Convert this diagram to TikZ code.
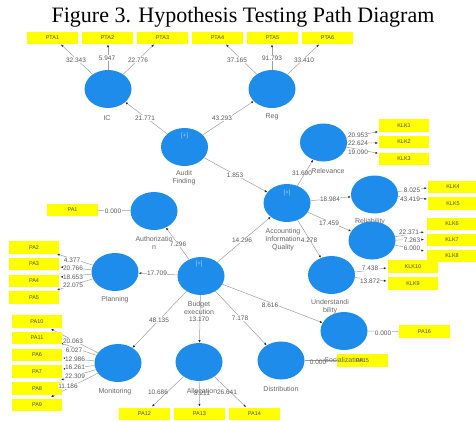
\documentclass[tikz,border=0pt]{standalone}
\usepackage{fontspec}
\setmainfont{Liberation Sans}
\newfontfamily\titlefont{Liberation Serif}
\usetikzlibrary{shapes.geometric,arrows.meta}
\pgfdeclarelayer{background}
\pgfsetlayers{background,main}
\definecolor{plsblue}{RGB}{30,140,235}
\definecolor{plsyellow}{RGB}{255,255,0}
\begin{document}
\begin{tikzpicture}[x=1pt,y=-1pt,
  lv/.style={ellipse, fill=plsblue, minimum width=47pt, minimum height=38pt, inner sep=0pt},
  ind/.style={fill=plsyellow, minimum width=51pt, minimum height=12.5pt, inner sep=0pt, font=\fontsize{5.5}{6}\selectfont, text=black!70},
  num/.style={fill=white, inner sep=0.4pt, font=\fontsize{6.5}{7}\selectfont, text=black!65},
  lvlab/.style={font=\fontsize{7}{8}\selectfont, text=black!60, align=center, inner sep=0pt},
  plus/.style={font=\fontsize{6}{7}\selectfont, text=white!65!plsblue, inner sep=0pt},
  con/.style={draw=black!38, line width=0.5pt, -{Latex[length=2.6pt,width=2.2pt,color=black!85]}},
  plain/.style={draw=black!38, line width=0.5pt},
  titlest/.style={font=\titlefont\fontsize{22}{24}\selectfont, anchor=base, inner sep=0pt}]
\useasboundingbox (0,0) rectangle (476,421);
\node[titlest] (title) at (243,22) {Figure 3. Hypothesis Testing Path Diagram};

% latent variables
\node[lv] (IC) at (108,89) {};
\node[lv] (Reg) at (272,89) {};
\node[lv] (AF) at (184.5,147) {};
\node[lv] (AIQ) at (287,203) {};
\node[lv] (Rel) at (323.5,142.5) {};
\node[lv] (Reli) at (374.5,194.5) {};
\node[lvlab] (Relilab) at (370,222) {Reliability};
\node[lv] (Cons) at (372,240.5) {};
\node[lv] (Und) at (331.5,275) {};
\node[lv] (Auth) at (154,211) {};
\node[lv] (BE) at (201,276) {};
\node[lv] (Plan) at (115,272) {};
\node[lv] (Mon) at (118,363) {};
\node[lv] (Alloc) at (199,362) {};
\node[lv] (Dist) at (281,360.5) {};
\node[lv] (Soc) at (344,331) {};

\node[plus] (p1) at (184.5,136) {[+]};
\node[plus] (p2) at (287,193) {[+]};
\node[plus] (p3) at (199,264) {[+]};

% latent variable labels
\node[lvlab] (ICl) at (107,118) {IC};
\node[lvlab] (Regl) at (272,117) {Reg};
\node[lvlab] (AFl) at (184,177.5) {Audit\\Finding};
\node[lvlab] (Rell) at (328,171) {Relevance};
\node[lvlab] (AIQl) at (283,240) {Accounting\\Information\\Quality};
\node[lvlab] (Undl) at (330,306.5) {Understandi\\bility};
\node[lvlab] (Authl) at (154,242.5) {Authorizatio\\n};
\node[lvlab] (BEl) at (199,308) {Budget\\execution};
\node[lvlab] (Planl) at (115,300) {Planning};
\node[lvlab] (Monl) at (115,392) {Monitoring};
\node[lvlab] (Allocl) at (202,391) {Allocation};
\node[lvlab] (Distl) at (281,389) {Distribution};

% indicators
\node[ind] (PTA1) at (52.5,38) {PTA1};
\node[ind] (PTA2) at (107.5,38) {PTA2};
\node[ind] (PTA3) at (162.5,38) {PTA3};
\node[ind] (PTA4) at (217.5,38) {PTA4};
\node[ind] (PTA5) at (272.5,38) {PTA5};
\node[ind] (PTA6) at (327.5,38) {PTA6};
\node[ind, minimum width=50pt] (KLK1) at (404,125.5) {KLK1};
\node[ind, minimum width=50pt] (KLK2) at (404,142) {KLK2};
\node[ind, minimum width=50pt] (KLK3) at (404,159) {KLK3};
\node[ind, minimum width=50pt] (KLK4) at (453,187) {KLK4};
\node[ind, minimum width=50pt] (KLK5) at (453,203.5) {KLK5};
\node[ind, minimum width=50pt] (KLK6) at (452,224) {KLK6};
\node[ind, minimum width=50pt] (KLK7) at (452,240) {KLK7};
\node[ind, minimum width=50pt] (KLK8) at (452,256) {KLK8};
\node[ind, minimum width=50pt] (KLK10) at (413,266.5) {KLK10};
\node[ind, minimum width=50pt] (KLK9) at (413,283.5) {KLK9};
\node[ind] (PA1) at (72.5,210) {PA1};
\node[ind, minimum width=50pt] (PA2) at (34,247.5) {PA2};
\node[ind, minimum width=50pt] (PA3) at (34,264) {PA3};
\node[ind, minimum width=50pt] (PA4) at (34,281) {PA4};
\node[ind, minimum width=50pt] (PA5) at (34,297.5) {PA5};
\node[ind, minimum width=50pt] (PA10) at (37,321.5) {PA10};
\node[ind, minimum width=50pt] (PA11) at (37,338) {PA11};
\node[ind, minimum width=50pt] (PA6) at (37,355) {PA6};
\node[ind, minimum width=50pt] (PA7) at (37,371.5) {PA7};
\node[ind, minimum width=50pt] (PA8) at (37,388.5) {PA8};
\node[ind, minimum width=50pt] (PA9) at (37,405) {PA9};
\node[ind] (PA12) at (144.5,414) {PA12};
\node[ind] (PA13) at (199.5,414) {PA13};
\node[ind] (PA14) at (254.5,414) {PA14};
\node[ind] (PA15) at (362.5,360.5) {PA15};
\node[ind] (PA16) at (424.5,331.5) {PA16};
\node[lvlab] (Socl) at (344,360) {Socialization};

% indicator end points
\coordinate (d1) at (61,44.5);
\coordinate (d2) at (108,44.5);
\coordinate (d3) at (154,44.5);
\coordinate (d4) at (226,44.5);
\coordinate (d5) at (272,44.5);
\coordinate (d6) at (319,44.5);
\coordinate (k1) at (378,131.7);
\coordinate (k2) at (378,143);
\coordinate (k3) at (378,153.3);
\coordinate (k4) at (427,188);
\coordinate (k5) at (427,199);
\coordinate (k6) at (424,232);
\coordinate (k7) at (424,239.5);
\coordinate (k8) at (424,251);
\coordinate (k10) at (386.5,268);
\coordinate (k9) at (386.5,281);
\coordinate (a2) at (57,254);
\coordinate (a3) at (60.5,267);
\coordinate (a4) at (60.5,277);
\coordinate (a5) at (57,290);
\coordinate (a10) at (51,329);
\coordinate (a11) at (61,343);
\coordinate (a6) at (63,358);
\coordinate (a7) at (63,369);
\coordinate (a8) at (61,380);
\coordinate (a9) at (51,397);
\coordinate (a12) at (152,406.5);
\coordinate (a13) at (199.5,406.5);
\coordinate (a14) at (246,407);

\begin{pgfonlayer}{background}
\foreach \t in {d1,d2,d3} \draw[con] (IC) -- (\t);
\foreach \t in {d4,d5,d6} \draw[con] (Reg) -- (\t);
\foreach \t in {k1,k2,k3} \draw[con] (Rel) -- (\t);
\foreach \t in {k4,k5} \draw[con] (Reli) -- (\t);
\foreach \t in {k6,k7,k8} \draw[con] (Cons) -- (\t);
\foreach \t in {k10,k9} \draw[con] (Und) -- (\t);
\foreach \t in {a2,a3,a4,a5} \draw[con] (Plan) -- (\t);
\foreach \t in {a10,a11,a6,a7,a8,a9} \draw[con] (Mon) -- (\t);
\foreach \t in {a12,a13,a14} \draw[con] (Alloc) -- (\t);
\draw[con] (AF) -- (IC);
\draw[con] (AF) -- (Reg);
\draw[con] (AF) -- (AIQ);
\draw[con] (AIQ) -- (Rel);
\draw[con] (AIQ) -- (Reli);
\draw[con] (AIQ) -- (Cons);
\draw[con] (AIQ) -- (Und);
\draw[con] (BE) -- (Auth);
\draw[con] (BE) -- (Plan);
\draw[con] (BE) -- (AIQ);
\draw[con] (BE) -- (Mon);
\draw[con] (BE) -- (Alloc);
\draw[con] (BE) -- (Dist);
\draw[con] (BE) -- (Soc);
\draw[plain] (PA1) -- (Auth);
\draw[plain] (Dist) -- (PA15);
\draw[plain] (Soc) -- (PA16);
\end{pgfonlayer}

% path coefficients / t values
\node[num] (n1) at (76,60) {32.343};
\node[num] (n2) at (107,58) {5.947};
\node[num] (n3) at (138,60) {22.776};
\node[num] (n4) at (237,60) {37.165};
\node[num] (n5) at (272,58) {91.793};
\node[num] (n6) at (304,60) {33.410};
\node[num] (n7) at (145,118) {21.771};
\node[num] (n8) at (222,118) {43.293};
\node[num] (n9) at (235,175) {1.853};
\node[num, fill=none] (n10) at (302,173.5) {31.690};
\node[num] (n11) at (330,199) {18.984};
\node[num] (n12) at (329,223) {17.459};
\node[num, fill=none] (n13) at (309,240) {4.278};
\node[num] (n14) at (358,135) {20.953};
\node[num] (n15) at (358,143.5) {22.624};
\node[num] (n16) at (358,152) {19.090};
\node[num] (n17) at (412,190.5) {8.025};
\node[num] (n18) at (410,199) {43.419};
\node[num] (n19) at (409,232) {22.371};
\node[num] (n20) at (412,240) {7.263};
\node[num] (n21) at (412,248) {6.000};
\node[num] (n22) at (370,268) {7.438};
\node[num] (n23) at (370,281) {13.872};
\node[num] (n24) at (113,211) {0.000};
\node[num] (n25) at (178,244) {7.296};
\node[num] (n26) at (157,273) {17.709};
\node[num] (n27) at (242,240) {14.296};
\node[num] (n28) at (72,260) {4.377};
\node[num] (n29) at (73,268.5) {20.766};
\node[num] (n30) at (73,277) {18.653};
\node[num] (n31) at (73,285.5) {22.075};
\node[num] (n32) at (159,320) {48.135};
\node[num, fill=none] (n33) at (199,319.5) {13.170};
\node[num] (n34) at (240,318) {7.178};
\node[num] (n35) at (270,305) {8.616};
\node[num] (n36) at (73,341) {20.063};
\node[num] (n37) at (74,350) {6.027};
\node[num] (n38) at (75,359) {12.986};
\node[num] (n39) at (75,367.5) {16.261};
\node[num] (n40) at (75,376) {22.309};
\node[num] (n41) at (68,386) {11.186};
\node[num, fill=none] (n42) at (158,392) {10.686};
\node[num, fill=none] (n43) at (202,393.5) {8.211};
\node[num, fill=none] (n44) at (227,392) {26.641};
\node[num, fill=none] (n45) at (318,362) {0.000};
\node[num] (n46) at (383,333) {0.000};
\end{tikzpicture}
\end{document}
